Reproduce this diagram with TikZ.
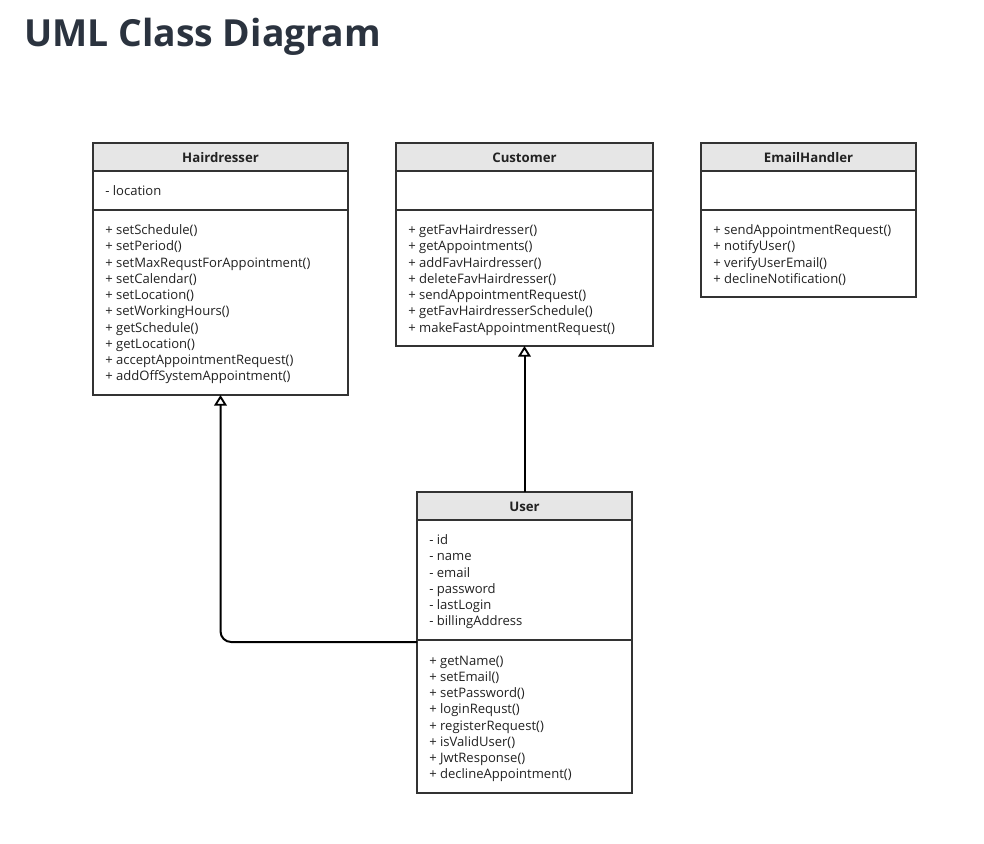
\documentclass[tikz,border=0pt]{standalone}
\usepackage{fontspec}
\setmainfont{Open Sans}
\usetikzlibrary{arrows.meta}
\definecolor{titlecol}{HTML}{2B333F}
\definecolor{boxline}{HTML}{333333}
\definecolor{headfill}{HTML}{E6E6E6}
\definecolor{txtcol}{HTML}{222222}
\tikzset{
  classbox/.style={draw=boxline, line width=0.9pt, fill=white, anchor=north west, inner sep=0pt, outer sep=0pt},
  headbox/.style={draw=boxline, line width=0.9pt, fill=headfill},
  divline/.style={draw=boxline, line width=0.9pt},
  headtxt/.style={font=\fontsize{9.9pt}{12pt}\selectfont\bfseries, text=txtcol, inner sep=0pt},
  linetxt/.style={font=\fontsize{9.8pt}{12pt}\selectfont, text=txtcol, anchor=base west, inner sep=0pt},
  inherit/.style={draw=black, line width=1.5pt, -{Triangle[open, length=8pt, width=9.5pt, line width=1.4pt]}}
}
\begin{document}
\begin{tikzpicture}[x=0.75pt,y=-0.75pt]
\useasboundingbox (0,0) rectangle (984,843);
\fill[white] (0,0) rectangle (984,843);
% Title
\node[font=\fontsize{28pt}{34pt}\selectfont\bfseries, text=titlecol, anchor=base west, inner sep=0pt] (title) at (24,46) {UML Class Diagram};

% ---------- Hairdresser ----------
\node[classbox, minimum width=255*0.75pt, minimum height=252*0.75pt] (hair) at (93,143) {};
\draw[headbox] (93,143) rectangle (348,171);
\draw[divline] (93,210) -- (348,210);
\node[headtxt] (hairname) at (220.5,157.5) {Hairdresser};
\node[linetxt] (hairattr) at (105,195) {- location};
\foreach \t [count=\i] in {+ setSchedule(), + setPeriod(), + setMaxRequstForAppointment(), + setCalendar(), + setLocation(), + setWorkingHours(), + getSchedule(), + getLocation(), + acceptAppointmentRequest(), + addOffSystemAppointment()}
  \node[linetxt] (hm\i) at ({105},{234.5+16.25*(\i-1)}) {\t};

% ---------- Customer ----------
\node[classbox, minimum width=257*0.75pt, minimum height=203*0.75pt] (cust) at (396,143) {};
\draw[headbox] (396,143) rectangle (653,171);
\draw[divline] (396,210) -- (653,210);
\node[headtxt] (custname) at (524.5,157.5) {Customer};
\foreach \t [count=\i] in {+ getFavHairdresser(), + getAppointments(), + addFavHairdresser(), + deleteFavHairdresser(), + sendAppointmentRequest(), + getFavHairdresserSchedule(), + makeFastAppointmentRequest()}
  \node[linetxt] (cm\i) at ({408},{234.5+16.25*(\i-1)}) {\t};

% ---------- EmailHandler ----------
\node[classbox, minimum width=215*0.75pt, minimum height=154*0.75pt] (email) at (701,143) {};
\draw[headbox] (701,143) rectangle (916,171);
\draw[divline] (701,210) -- (916,210);
\node[headtxt] (emailname) at (808.5,157.5) {EmailHandler};
\foreach \t [count=\i] in {+ sendAppointmentRequest(), + notifyUser(), + verifyUserEmail(), + declineNotification()}
  \node[linetxt] (em\i) at ({713},{234.5+16.25*(\i-1)}) {\t};

% ---------- User ----------
\node[classbox, minimum width=215*0.75pt, minimum height=301*0.75pt] (user) at (417,492) {};
\draw[headbox] (417,492) rectangle (632,520);
\draw[divline] (417,640) -- (632,640);
\node[headtxt] (username) at (524.5,506.5) {User};
\foreach \t [count=\i] in {- id, - name, - email, - password, - lastLogin, - billingAddress}
  \node[linetxt] (ua\i) at ({429},{544.5+16.25*(\i-1)}) {\t};
\foreach \t [count=\i] in {+ getName(), + setEmail(), + setPassword(), + loginRequst(), + registerRequest(), + isValidUser(), + JwtResponse(), + declineAppointment()}
  \node[linetxt] (um\i) at ({429},{665+16.25*(\i-1)}) {\t};

% ---------- Connectors ----------
\coordinate (ujoin) at (417,642);
\draw[inherit] (user.north) -- (cust.south);
\draw[inherit, rounded corners=8pt] (ujoin) -| (hair.south);
\end{tikzpicture}
\end{document}
